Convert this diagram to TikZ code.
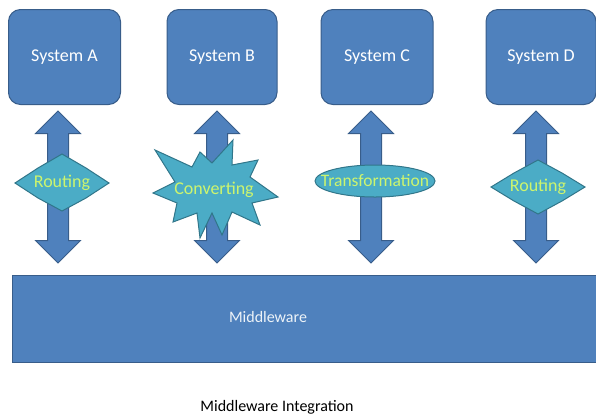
\documentclass[tikz,border=0pt]{standalone}
\usepackage{fontspec}
\setmainfont{Carlito}
\usetikzlibrary{shapes.arrows,shapes.geometric}

\definecolor{sysblue}{RGB}{79,129,189}
\definecolor{sysedge}{RGB}{56,93,138}
\definecolor{filterfill}{RGB}{75,172,198}
\definecolor{filteredge}{RGB}{49,118,138}
\definecolor{filtertext}{RGB}{205,245,110}

\tikzset{
  sysbox/.style={draw=sysedge, fill=sysblue, line width=1pt, rounded corners=12pt,
    minimum width=112pt, minimum height=95pt, text=white, font=\fontsize{18}{21}\selectfont},
  busbox/.style={draw=sysedge, fill=sysblue, line width=1pt, minimum height=87pt, inner sep=0pt},
  dblarrow/.style={double arrow, draw=sysedge, fill=sysblue, line width=1pt, rotate=90,
    minimum height=152pt, double arrow head extend=12pt, inner xsep=0pt, inner ysep=10pt},
  filter/.style={draw=filteredge, fill=filterfill, line width=1pt},
  filterlabel/.style={text=filtertext, font=\fontsize{18}{21}\selectfont, inner sep=1pt}
}

\begin{document}
\begin{tikzpicture}[x=1pt,y=-1pt]
\useasboundingbox (0,0) rectangle (596,416);

% systems
\node [sysbox] (sysA) at (64.5,57) {System A};
\node [sysbox, minimum width=110pt] (sysB) at (222,57) {System B};
\node [sysbox] (sysC) at (377,57) {System C};
\node [sysbox, minimum width=110pt] (sysD) at (541,57) {System D};

% middleware
\node [busbox, minimum width=592pt, anchor=north west] (mw) at (12,275) {};
\node [text=white!90!sysblue, font=\fontsize{16}{19}\selectfont] (mwtext) at (268,317) {Middleware};

% arrows
\node [dblarrow] (arrA) at (58,187) {};
\node [dblarrow] (arrB) at (217,187) {};
\node [dblarrow] (arrC) at (371,187) {};
\node [dblarrow] (arrD) at (536,187) {};

% filters
\coordinate (rtA) at (62,183);
\draw [filter, shift={(rtA)}] (-47,0) -- (-24,-15) -- (0,-29) -- (24,-15) -- (47,0)
  -- (24,15) -- (0,28) -- (-24,15) -- cycle;
\node [filterlabel] (rtAtext) at (rtA) {Routing};

\coordinate (conv) at (214,188);
\draw [filter, shift={(conv)}] (-59,-38) -- (-22,-21) -- (-14,-36) -- (-2,-25) -- (19,-48)
  -- (18,-23) -- (44,-28) -- (36,-11) -- (64,9) -- (38,15) -- (46,37) -- (18,24)
  -- (8,47) -- (-2,25) -- (-14,50) -- (-17,25) -- (-41,34) -- (-37,15) -- (-61,5)
  -- (-39,-6) -- cycle;
\node [filterlabel] (convtext) at (214,190) {Converting};

\node [ellipse, filter, minimum width=120pt, minimum height=32pt, inner sep=0pt] (trans) at (375,181) {};
\node [filterlabel, font=\fontsize{17.5}{21}\selectfont] (transtext) at (trans) {Transformation};

\coordinate (rtD) at (538,187);
\draw [filter, shift={(rtD)}] (-47,0) -- (-24,-14) -- (0,-27) -- (24,-14) -- (47,0)
  -- (24,14) -- (0,27) -- (-24,14) -- cycle;
\node [filterlabel] (rtDtext) at (rtD) {Routing};

% caption
\node [font=\fontsize{16}{19}\selectfont] (caption) at (277,407) {Middleware Integration};
\end{tikzpicture}
\end{document}
